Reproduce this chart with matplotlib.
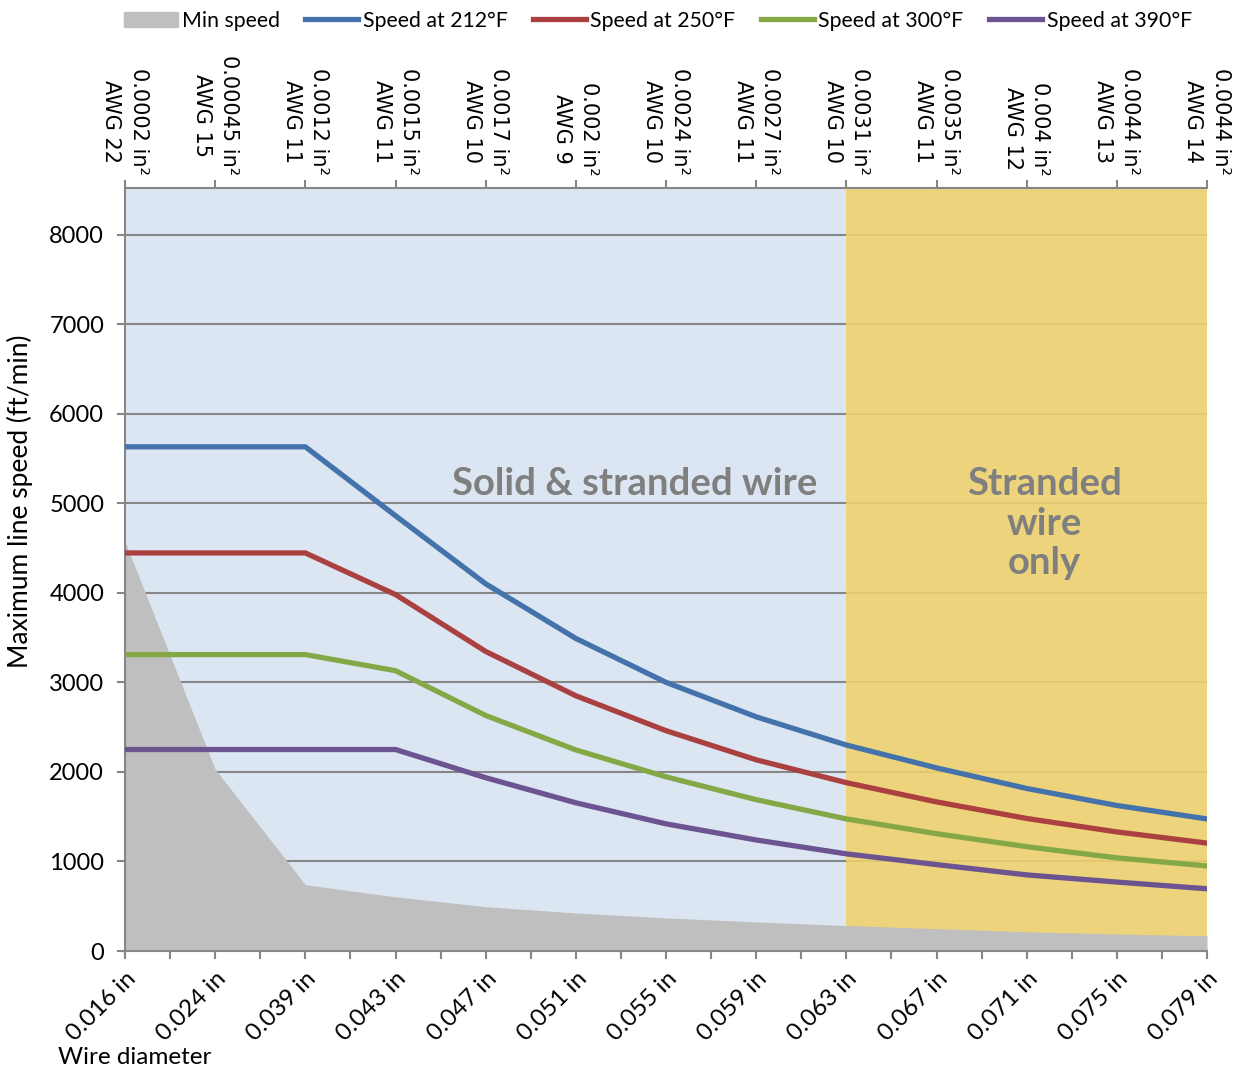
import matplotlib
matplotlib.use("Agg")
import matplotlib.pyplot as plt
from matplotlib.patches import Patch
from matplotlib.lines import Line2D

# wire diameter categories (bottom axis)
diameters = ["0.016 in", "0.024 in", "0.039 in", "0.043 in", "0.047 in", "0.051 in",
             "0.055 in", "0.059 in", "0.063 in", "0.067 in", "0.071 in", "0.075 in", "0.079 in"]
# top axis: AWG gauge and cross section area
awg = ["AWG 22", "AWG 15", "AWG 11", "AWG 11", "AWG 10", "AWG 9", "AWG 10",
       "AWG 11", "AWG 10", "AWG 11", "AWG 12", "AWG 13", "AWG 14"]
areas = ["0.0002 in²", "0.00045 in²", "0.0012 in²", "0.0015 in²", "0.0017 in²", "0.002 in²",
         "0.0024 in²", "0.0027 in²", "0.0031 in²", "0.0035 in²", "0.004 in²", "0.0044 in²", "0.0044 in²"]

min_speed = [4570, 2030, 740, 605, 495, 425, 370, 325, 285, 250, 215, 190, 170]
speed_212 = [5630, 5630, 5630, 4860, 4100, 3490, 3000, 2615, 2300, 2045, 1815, 1625, 1475]
speed_250 = [4445, 4445, 4445, 3980, 3345, 2850, 2460, 2135, 1880, 1665, 1480, 1330, 1205]
speed_300 = [3310, 3310, 3310, 3130, 2630, 2245, 1945, 1690, 1475, 1310, 1165, 1040, 950]
speed_390 = [2250, 2250, 2250, 2250, 1935, 1655, 1420, 1240, 1085, 965, 850, 770, 695]

x = list(range(len(diameters)))

plt.rcParams['font.family'] = ['Lato', 'DejaVu Sans']

fig = plt.figure(figsize=(12.44, 10.7), dpi=100)
ax = fig.add_axes([0.1005, 0.1112, 0.8698, 0.7131])

ax.set_xlim(0, 12)
ax.set_ylim(0, 8520)

# background regions
ax.axvspan(0, 8, color="#DCE6F2", zorder=0, lw=0)
ax.yaxis.grid(True, color="#868686", lw=1.5, zorder=1)
ax.set_axisbelow(True)
ax.axvspan(8, 12, color="#EBCF6E", alpha=0.9, zorder=1.5, lw=0)

ax.fill_between(x, 0, min_speed, color="#BFBFBF", lw=0, zorder=2)

lw = 3.8
ax.plot(x, speed_212, color="#4472AA", lw=lw, zorder=3, solid_capstyle="round")
ax.plot(x, speed_250, color="#AA403F", lw=lw, zorder=3, solid_capstyle="round")
ax.plot(x, speed_300, color="#85A847", lw=lw, zorder=3, solid_capstyle="round")
ax.plot(x, speed_390, color="#6C5491", lw=lw, zorder=3, solid_capstyle="round")

ax.text(5.65, 5220, "Solid & stranded wire", color="#7F7F7F", fontsize=27.5,
        fontweight="bold", ha="center", va="center", zorder=4)
ax.text(10.2, 4770, "Stranded\nwire\nonly", color="#7F7F7F", fontsize=27.5,
        fontweight="bold", ha="center", va="center", linespacing=1.2, zorder=4)

# axes styling
for s in ["left", "bottom", "top"]:
    ax.spines[s].set_color("#868686")
    ax.spines[s].set_linewidth(1.5)
ax.spines["right"].set_visible(False)

ax.set_yticks(range(0, 8001, 1000))
ax.tick_params(axis="y", labelsize=17, color="#868686", width=1.5, length=6, pad=9)
ax.set_xticks(x)
ax.set_xticks([i + 0.5 for i in x[:-1]], minor=True)
ax.set_xticklabels(diameters, rotation=45, ha="right", rotation_mode="anchor", fontsize=17.5)
ax.tick_params(axis="x", which="both", color="#868686", width=1.5, length=6, pad=6)

ax.set_ylabel("Maximum line speed (ft/min)", fontsize=19)
ax.yaxis.set_label_coords(-0.085, 0.59)

top = ax.twiny()
top.set_xlim(ax.get_xlim())
top.set_xticks(x)
top.set_xticklabels([a + "\n" + g for a, g in zip(areas, awg)], rotation=-90,
                    fontsize=15, family="DejaVu Sans", multialignment="center",
                    linespacing=1.45)
top.tick_params(axis="x", color="#868686", width=1.5, length=6, pad=3)
for s in top.spines.values():
    s.set_visible(False)

fig.text(0.047, 0.0056, "Wire diameter", fontsize=17.5)

handles = [Patch(color="#BFBFBF"),
           Line2D([], [], color="#4472AA", lw=lw),
           Line2D([], [], color="#AA403F", lw=lw),
           Line2D([], [], color="#85A847", lw=lw),
           Line2D([], [], color="#6C5491", lw=lw)]
labels = ["Min speed", "Speed at 212°F", "Speed at 250°F", "Speed at 300°F", "Speed at 390°F"]
fig.legend(handles, labels, loc="upper center", bbox_to_anchor=(0.529, 1.008), ncol=5,
           frameon=False, handlelength=2.5, handletextpad=0.2, columnspacing=1.2,
           fontsize=15.3)

fig.savefig("out.png", dpi=100)
